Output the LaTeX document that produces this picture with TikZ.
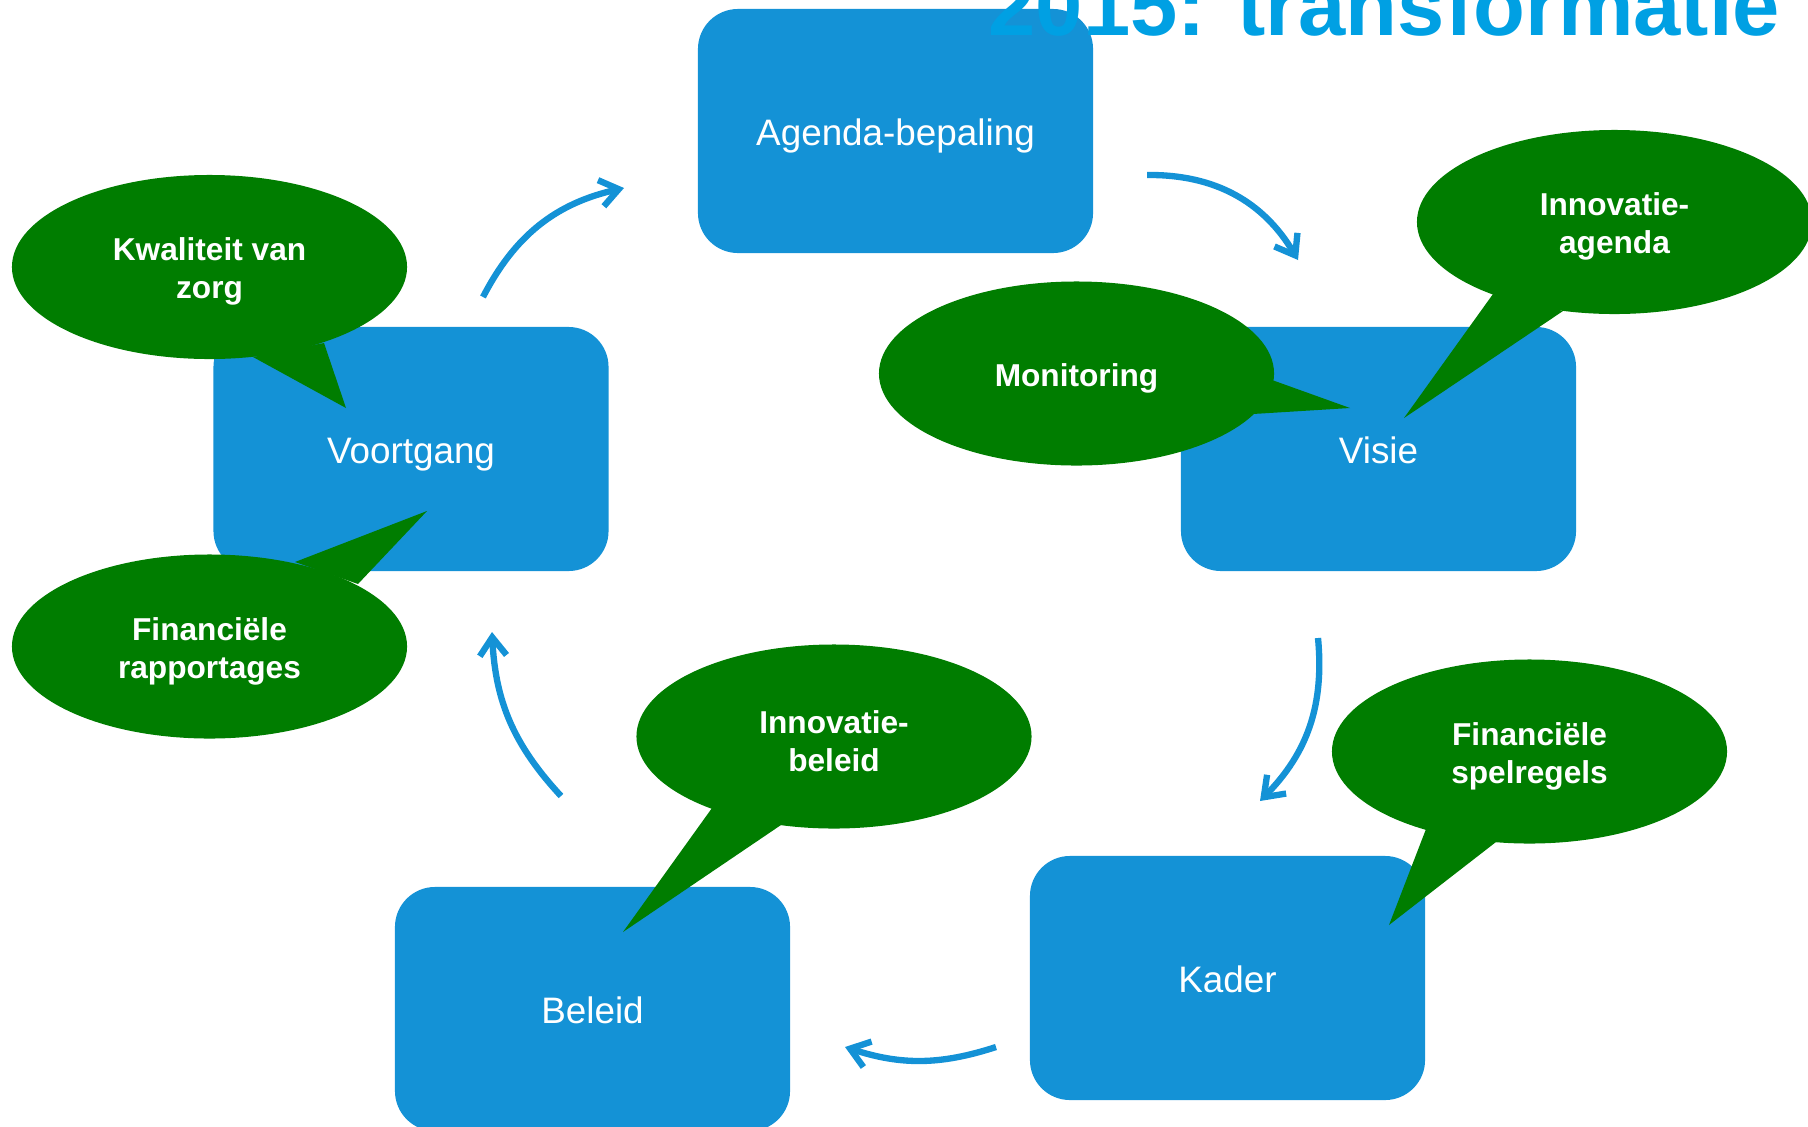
\documentclass[tikz,border=0pt]{standalone}
\usepackage{fontspec}
\setmainfont{Liberation Sans}
\usetikzlibrary{shapes.geometric,arrows.meta}
\definecolor{boxblue}{RGB}{20,146,214}
\definecolor{callgreen}{RGB}{0,125,0}
\definecolor{titleblue}{RGB}{0,160,227}
\begin{document}
\begin{tikzpicture}[x=0.025cm,y=-0.025cm,
  stage/.style={fill=boxblue, rounded corners=1cm, minimum width=9.875cm, minimum height=6.1cm, inner sep=0pt, text=white, text height=21pt, text depth=0pt, font=\fontsize{26.2}{31}\selectfont},
  bubble/.style={ellipse, fill=callgreen, minimum width=9.875cm, minimum height=4.6cm, inner sep=0pt},
  bubbletext/.style={inner sep=0pt, text=white, align=center, font=\bfseries\fontsize{22.5}{27}\selectfont},
  tail/.style={fill=callgreen},
  flow/.style={draw=boxblue, line width=4.5pt, -{Straight Barb[length=13pt,width=19pt]}},
  titletext/.style={text=titleblue, inner sep=0pt, font=\bfseries\fontsize{60.4}{70}\selectfont}
]
\useasboundingbox (0,0) rectangle (1808,1126);
\clip (0,0) rectangle (1808,1126);

% stages
\node[stage] (agenda) at (895.5,131) {Agenda-bepaling};
\node[stage] (voort) at (411,449) {Voortgang};
\node[stage] (visie) at (1378.5,449) {Visie};
\node[stage] (kader) at (1227.5,978) {Kader};
\node[stage] (beleid) at (592.5,1009) {Beleid};

% callout tails
\fill[tail] (253,357) -- (346,408) -- (324,343) -- cycle;
\fill[tail] (295,562) -- (427,511) -- (358,584) -- cycle;
\fill[tail] (1272,380) -- (1350,408) -- (1253,414) -- cycle;
\fill[tail] (1493,294) -- (1404,418) -- (1563,311) -- cycle;
\fill[tail] (712,808) -- (623,932) -- (781,825) -- cycle;
\fill[tail] (1426,829) -- (1389,925) -- (1496,842) -- cycle;

% callouts
\node[bubble] (kw) at (209.5,267) {};
\node[bubble] (fr) at (209.5,646.5) {};
\node[bubble] (mon) at (1076.5,373.5) {};
\node[bubble] (ia) at (1614.5,222) {};
\node[bubble] (ib) at (834,736.5) {};
\node[bubble] (fs) at (1529.5,751.5) {};

\node[bubbletext] (kwt) at ([yshift=-3.2pt]kw.center) {Kwaliteit van\\zorg};
\node[bubbletext] (frt) at ([yshift=-3.2pt]fr.center) {Financiële\\rapportages};
\node[bubbletext] (mont) at ([yshift=-3.2pt]mon.center) {Monitoring};
\node[bubbletext] (iat) at ([yshift=-3.2pt]ia.center) {Innovatie-\\agenda};
\node[bubbletext] (ibt) at ([yshift=-3.2pt]ib.center) {Innovatie-\\beleid};
\node[bubbletext] (fst) at ([yshift=-3.2pt]fs.center) {Financiële\\spelregels};

% arrow end points
\coordinate (a1s) at (483,297);  \coordinate (a1e) at (624,188);
\coordinate (a2s) at (1147,175); \coordinate (a2e) at (1298,260);
\coordinate (a3s) at (1318,638); \coordinate (a3e) at (1260,801);
\coordinate (a4s) at (996,1047); \coordinate (a4e) at (845,1047);
\coordinate (a5s) at (561,796);  \coordinate (a5e) at (492,632);

\draw[flow] (a1s) to[bend left=25] (a1e);
\draw[flow] (a2s) to[bend left=30] (a2e);
\draw[flow] (a3s) to[bend left=25] (a3e);
\draw[flow] (a4s) to[bend left=18] (a4e);
\draw[flow] (a5s) to[bend left=20] (a5e);

% title
\node[titletext, anchor=base] (title) at (1384.5,35) {2015: transformatie};
\end{tikzpicture}
\end{document}
